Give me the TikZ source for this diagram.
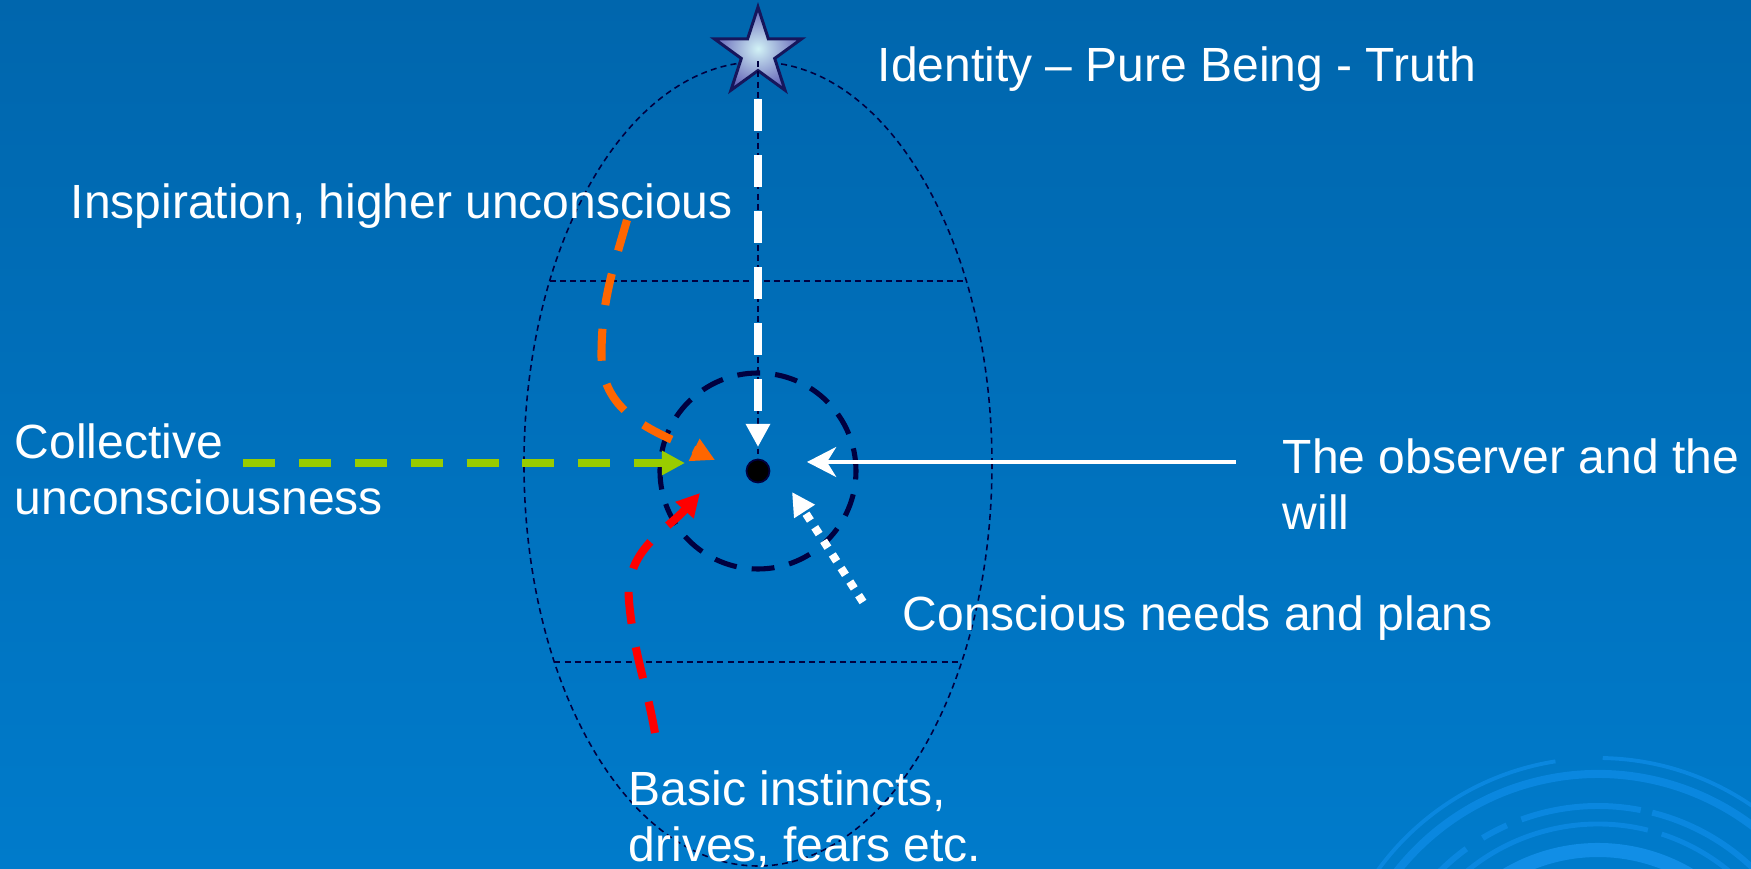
\documentclass[tikz,border=0pt]{standalone}
\usepackage{fontspec}
\setmainfont{Liberation Sans}
\usetikzlibrary{shapes.geometric,arrows.meta,positioning,calc}

\definecolor{bgtop}{HTML}{0066AD}
\definecolor{bgmid}{HTML}{006BB5}
\definecolor{bgbottom}{HTML}{007BCB}
\definecolor{navy}{HTML}{000040}
\definecolor{swirl}{HTML}{0A87DF}
\definecolor{swirllight}{HTML}{118EE6}
\definecolor{starcore}{HTML}{D2F2F6}
\definecolor{staredge}{HTML}{6464B8}
\definecolor{starline}{HTML}{16165C}
\definecolor{inspire}{HTML}{FF6600}
\definecolor{collective}{HTML}{99CC00}
\definecolor{instinct}{HTML}{FF0000}

\begin{document}
\begin{tikzpicture}[
  lbl/.style={text=white, font=\fontsize{13.66pt}{16.2pt}\selectfont, align=left, anchor=base west, inner sep=0pt},
  guide/.style={draw=navy, line width=0.45pt, dash pattern=on 1.7pt off 1.2pt},
  selfring/.style={draw=navy, line width=1.45pt, dash pattern=on 6.5pt off 4.3pt},
  flow/.style={line width=2.3pt, dash pattern=on 9.1pt off 6.8pt, -{Triangle[length=6.6pt,width=6.6pt]}},
  dotflow/.style={line width=2.3pt, dash pattern=on 2.3pt off 2.3pt, -{Triangle[length=6.6pt,width=6.6pt]}},
  push/.style={line width=1.15pt, -{Stealth[length=8.3pt,width=8.5pt,inset=2.6pt]}},
  swirlarc/.style={draw=swirl, line cap=butt}
]
% slide background
\coordinate (slide sw) at (-7.58,-3.98);
\coordinate (slide ne) at (9.93,4.71);
\useasboundingbox (slide sw) rectangle (slide ne);
\shade[top color=bgtop, middle color=bgmid, bottom color=bgbottom] (slide sw) rectangle (slide ne);
\begin{scope}
\clip (slide sw) rectangle (slide ne);
\coordinate (swirl c) at (8.40,-5.59);
\draw[swirlarc, line width=1.1pt] (swirl c) ++(20:2.72) arc[start angle=20, end angle=89, radius=2.72];
\draw[swirlarc, line width=1.1pt] (swirl c) ++(99:2.72) arc[start angle=99, end angle=170, radius=2.72];
\draw[swirlarc, line width=2.3pt] (swirl c) ++(15:2.56) arc[start angle=15, end angle=170, radius=2.56];
\draw[swirlarc, line width=1.7pt] (swirl c) ++(30:2.24) arc[start angle=30, end angle=76, radius=2.24];
\draw[swirlarc, line width=1.7pt] (swirl c) ++(79:2.24) arc[start angle=79, end angle=110, radius=2.24];
\draw[swirlarc, line width=1.7pt] (swirl c) ++(114:2.24) arc[start angle=114, end angle=121, radius=2.24];
\draw[swirlarc, line width=1.7pt] (swirl c) ++(126:2.24) arc[start angle=126, end angle=165, radius=2.24];
\draw[swirlarc, line width=1.4pt] (swirl c) ++(40:2.06) arc[start angle=40, end angle=72, radius=2.06];
\draw[swirlarc, line width=1.4pt] (swirl c) ++(76:2.06) arc[start angle=76, end angle=150, radius=2.06];
\draw[swirlarc, draw=swirllight, line width=4pt] (swirl c) ++(40:1.80) arc[start angle=40, end angle=140, radius=1.80];
\end{scope}

% levels of the psyche
\node[ellipse, guide, minimum width=4.68cm, minimum height=8.04cm, inner sep=0pt] (oval) at (0,0.07) {};
\draw[guide] ($(oval.center)+(152.9:2.34 and 4.02)$) -- ($(oval.center)+(27.1:2.34 and 4.02)$);
\draw[guide] ($(oval.center)+(209.5:2.34 and 4.02)$) -- ($(oval.center)+(-29.5:2.34 and 4.02)$);
\node[circle, selfring, minimum size=1.96cm, inner sep=0pt] (field) at (0,0) {};
\node[circle, fill=black, draw=navy, line width=0.5pt, minimum size=0.23cm, inner sep=0pt] (will) at (0,0) {};
\node[star, star points=5, star point ratio=2.618, minimum size=0.92cm, inner sep=0pt,
      draw=starline, line width=0.85pt, inner color=starcore, outer color=staredge] (star) at (0,4.18) {};
\draw[guide] (oval.north) -- (will.north);

% texts (two-line nodes sit on their last baseline)
\node[lbl] (identity) at (1.19,3.89) {Identity – Pure Being - Truth};
\node[lbl] (higher) at (-6.88,2.52) {Inspiration, higher unconscious};
\node[lbl] (collect) at (-7.44,-0.44) {Collective\\unconsciousness};
\node[lbl] (observer) at (5.24,-0.59) {The observer and the\\will};
\node[lbl] (conscious) at (1.44,-1.60) {Conscious needs and plans};
\node[lbl] (basic) at (-1.30,-3.91) {Basic instincts,\\drives, fears etc.};

% influences on the self
\coordinate (green start) at (-5.15,0.08);
\coordinate (orange start) at (-1.31,2.51);
\coordinate (red start) at (-1.03,-2.62);
\coordinate (white start) at (4.78,0.09);
\coordinate (dots start) at (1.05,-1.31);
\draw[flow, white, shorten <=2.7mm] (star.south) -- ([yshift=2.4mm]will.center);
\draw[flow, collective] (green start) -- ([shift={(-0.73,0.08)}]will.center);
\draw[flow, inspire] (orange start) to[out=-106, in=90] (-1.565,1.15)
  to[out=-90, in=154] ([shift={(-0.43,0.11)}]will.center);
\draw[flow, instinct] (red start) to[out=100, in=-85] (-1.29,-1.3)
  to[out=95, in=228] ([shift={(-0.58,-0.22)}]will.center);
\draw[push, white] (white start) -- ([shift={(0.49,0.09)}]will.center);
\draw[dotflow, white] (dots start) -- ([shift={(0.34,-0.21)}]will.center);
\end{tikzpicture}
\end{document}
